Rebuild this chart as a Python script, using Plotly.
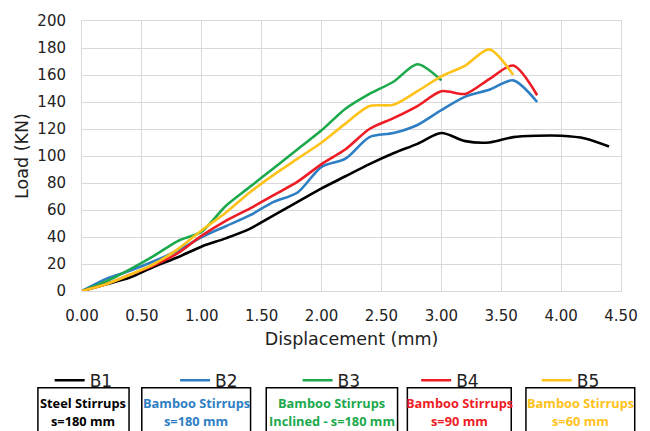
import plotly.graph_objects as go

disp_b1 = [0, 0.2, 0.4, 0.6, 0.8, 1.0, 1.2, 1.4, 1.6, 1.8, 2.0, 2.2, 2.4, 2.6, 2.8, 3.0, 3.2, 3.4, 3.6, 3.8, 4.0, 4.2, 4.4]
load_b1 = [0, 5, 10, 18, 25, 33, 39, 46, 56, 66, 76, 85, 94, 102, 109, 117, 111, 110, 114, 115, 115, 113, 107]

disp_b2 = [0, 0.2, 0.4, 0.6, 0.8, 1.0, 1.2, 1.4, 1.6, 1.8, 2.0, 2.2, 2.4, 2.6, 2.8, 3.0, 3.2, 3.4, 3.6, 3.8]
load_b2 = [0, 9, 15, 22, 30, 40, 48, 56, 66, 73, 92, 98, 114, 117, 123, 134, 144, 149, 156, 140]

disp_b3 = [0, 0.2, 0.4, 0.6, 0.8, 1.0, 1.2, 1.4, 1.6, 1.8, 2.0, 2.2, 2.4, 2.6, 2.8, 3.0]
load_b3 = [0, 7, 16, 26, 37, 44, 63, 77, 91, 105, 119, 135, 146, 155, 168, 156]

disp_b4 = [0, 0.2, 0.4, 0.6, 0.8, 1.0, 1.2, 1.4, 1.6, 1.8, 2.0, 2.2, 2.4, 2.6, 2.8, 3.0, 3.2, 3.4, 3.6, 3.8]
load_b4 = [0, 5, 12, 19, 28, 41, 52, 61, 71, 81, 94, 105, 120, 128, 137, 148, 146, 157, 167, 145]

disp_b5 = [0, 0.2, 0.4, 0.6, 0.8, 1.0, 1.2, 1.4, 1.6, 1.8, 2.0, 2.2, 2.4, 2.6, 2.8, 3.0, 3.2, 3.4, 3.6]
load_b5 = [0, 5, 12, 20, 31, 45, 58, 73, 86, 98, 110, 124, 137, 138, 148, 159, 167, 179, 160]

names = ["B1", "B2", "B3", "B4", "B5"]
colors = ["#000000", "#2E7EC4", "#1BA94C", "#EE1C25", "#FFC21A"]
box_lines1 = ["Steel Stirrups", "Bamboo Stirrups", "Bamboo Stirrups", "Bamboo Stirrups", "Bamboo Stirrups"]
box_lines2 = ["s=180 mm", "s=180 mm", "Inclined - s=180 mm", "s=90 mm", "s=60 mm"]
box_left_px = [37, 143, 270, 414, 535]
box_right_px = [130, 254, 404, 520, 646]
legend_text_px = [90, 218, 343, 464, 587]

xs = [disp_b1, disp_b2, disp_b3, disp_b4, disp_b5]
ys = [load_b1, load_b2, load_b3, load_b4, load_b5]

W, H = 650, 431
L, R, T, B = 82, 18, 20, 140
pw, ph = W - L - R, H - T - B

def px_x(p):
    return (p - L) / pw

def px_y(p):
    return (H - B - p) / ph

fig = go.Figure()
legend_keys = ["legend", "legend2", "legend3", "legend4", "legend5"]
for x, y, n, c, lk in zip(xs, ys, names, colors, legend_keys):
    fig.add_trace(go.Scatter(x=x, y=y, name=n, mode="lines", legend=lk,
                             line=dict(color=c, width=2.6, shape="spline", smoothing=0.8)))

axis_font = "DejaVu Sans"
box_font = "Open Sans"
for i in range(5):
    fig.add_shape(type="rect", xref="paper", yref="paper",
                  x0=px_x(box_left_px[i]), x1=px_x(box_right_px[i]),
                  y0=px_y(388), y1=px_y(445),
                  line=dict(color="#000000", width=1.5), fillcolor="rgba(0,0,0,0)")
    cx = px_x((box_left_px[i] + box_right_px[i]) / 2)
    fig.add_annotation(xref="paper", yref="paper", x=cx, y=px_y(403),
                       text="<b>" + box_lines1[i] + "</b>",
                       showarrow=False, xanchor="center", yanchor="middle",
                       font=dict(family=box_font, size=12.8, color=colors[i]))
    fig.add_annotation(xref="paper", yref="paper", x=cx, y=px_y(421),
                       text="<b>" + box_lines2[i] + "</b>",
                       showarrow=False, xanchor="center", yanchor="middle",
                       font=dict(family=box_font, size=12.8, color=colors[i]))

legend_common = dict(orientation="h", yanchor="top", xanchor="left",
                     font=dict(family=axis_font, size=17, color="#222222"),
                     bgcolor="rgba(0,0,0,0)", itemclick=False, itemdoubleclick=False)
layout_legends = {}
for i, lk in enumerate(legend_keys):
    layout_legends[lk] = dict(legend_common, x=px_x(legend_text_px[i] - 41), y=px_y(363))

fig.update_layout(
    width=W, height=H,
    margin=dict(l=L, r=R, t=T, b=B),
    paper_bgcolor="white", plot_bgcolor="white",
    font=dict(family=axis_font, color="#222222"),
    showlegend=True,
    **layout_legends,
)
fig.update_xaxes(range=[0, 4.5], tickmode="array",
                 tickvals=[0, 0.5, 1, 1.5, 2, 2.5, 3, 3.5, 4, 4.5],
                 ticktext=["0.00", "0.50", "1.00", "1.50", "2.00", "2.50", "3.00", "3.50", "4.00", "4.50"],
                 showgrid=True, gridcolor="#D9D9D9", gridwidth=1,
                 zeroline=False, showline=True, linecolor="#D9D9D9", mirror=True,
                 ticks="outside", ticklen=11, tickcolor="rgba(0,0,0,0)",
                 tickfont=dict(family=axis_font, size=15, color="#222222"),
                 title=dict(text="Displacement (mm)", font=dict(family=axis_font, size=17.5, color="#222222"), standoff=8))
fig.update_yaxes(range=[0, 200], tickmode="array",
                 tickvals=list(range(0, 201, 20)),
                 showgrid=True, gridcolor="#D9D9D9", gridwidth=1,
                 zeroline=False, showline=True, linecolor="#D9D9D9", mirror=True,
                 ticks="outside", ticklen=12, tickcolor="rgba(0,0,0,0)",
                 tickfont=dict(family=axis_font, size=15, color="#222222"),
                 title=dict(text="Load (KN)", font=dict(family=axis_font, size=17.5, color="#222222"), standoff=4))

fig.write_html("out.html")
